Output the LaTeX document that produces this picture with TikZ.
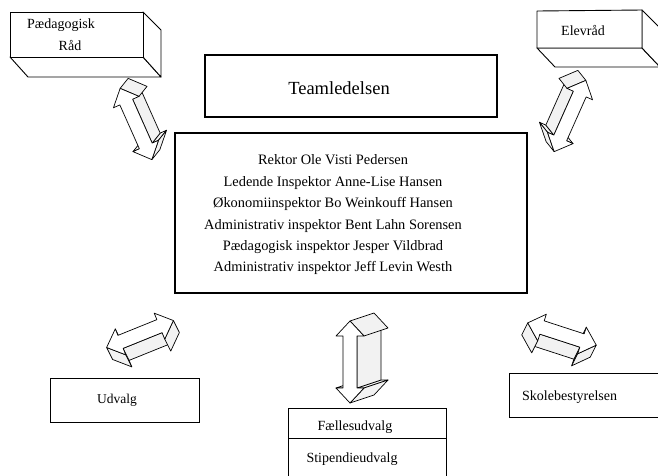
\documentclass[tikz,border=0pt]{standalone}
\usepackage{fontspec}
\setmainfont{Liberation Serif}
\usetikzlibrary{calc}
\tikzset{
  thinbox/.style={draw, line width=0.9pt, fill=white, line join=round},
  thickbox/.style={draw, line width=1.6pt, inner sep=0pt},
  lbl/.style={font=\fontsize{14}{16}\selectfont, inner sep=0pt},
  sidef/.style={draw, fill=gray!10, line width=0.7pt, line join=round},
  frontf/.style={draw, fill=white, line width=0.7pt, line join=round},
}
\def\arA{15}\def\arH{14}\def\arW{7}
\newcommand\tdarrow[6]{%
  \pgfmathsetmacro\hl{#4/2}%
  \pgfmathsetmacro\hi{#4/2-\arA}%
  \pgfmathsetmacro\dlx{(#5)*cos(#3)+(#6)*sin(#3)}%
  \pgfmathsetmacro\dly{-(#5)*sin(#3)+(#6)*cos(#3)}%
  \begin{scope}[shift={(#1,#2)},rotate=-#3]
    \foreach \k/\px/\py in {0/-\hl/0,1/-\hi/-\arH,2/-\hi/-\arW,3/\hi/-\arW,4/\hi/-\arH,5/\hl/0,6/\hi/\arH,7/\hi/\arW,8/-\hi/\arW,9/-\hi/\arH}{
      \coordinate (q\k) at (\px,\py);
      \coordinate (r\k) at (\px+\dlx,\py+\dly);
    }
    \foreach \i/\nx/\ny in {1/1/0,3/-1/0,6/-1/0,8/1/0,2/0/-1,7/0/1,0/-\arH/-\arA,4/\arH/-\arA,5/\arH/\arA,9/-\arH/\arA}{
      \pgfmathsetmacro\dd{(\nx)*(\dlx)+(\ny)*(\dly)}
      \pgfmathtruncatemacro\j{mod(\i+1,10)}
      \ifdim\dd pt>0pt
        \path[sidef] (q\i) -- (q\j) -- (r\j) -- (r\i) -- cycle;
      \fi
    }
    \path[frontf] (q0) -- (q1) -- (q2) -- (q3) -- (q4) -- (q5) -- (q6) -- (q7) -- (q8) -- (q9) -- cycle;
  \end{scope}}
\begin{document}
\begin{tikzpicture}[x=1pt,y=-1pt]
\useasboundingbox (0,0) rectangle (658,475);
\clip (0,0) rectangle (658,475);
\fill[white] (0,0) rectangle (658,475);

% Paedagogisk Raad (3D box)
\coordinate (pr1) at (10,12);
\coordinate (pr2) at (143,12);
\coordinate (pr3) at (143,57);
\coordinate (pr4) at (10,57);
\path[thinbox] (pr4) -- (pr3) -- ++(18,20) -- ($(pr4)+(18,20)$) -- cycle;
\path[thinbox] (pr2) -- ++(18,18) -- ($(pr3)+(18,20)$) -- (pr3) -- cycle;
\path[thinbox] (pr1) rectangle (pr3);
\node[lbl] (prt) at (61,25) {Pædagogisk};
\node[lbl] (prr) at (70,45) {Råd};

% Elevraad (3D box)
\coordinate (el1) at (537,11);
\coordinate (el2) at (642,10);
\coordinate (el3) at (642,48);
\coordinate (el4) at (537,48);
\path[thinbox] (el4) -- (el3) -- ++(18,19) -- ($(el4)+(18,19)$) -- cycle;
\path[thinbox] (el2) -- ++(18,18) -- ($(el3)+(18,19)$) -- (el3) -- cycle;
\path[thinbox] (el1) -- (el2) -- (el3) -- (el4) -- cycle;
\node[lbl] (elt) at (583,30) {Elevråd};

% Teamledelsen
\node[thickbox, minimum width=292, minimum height=62] (team) at (351,86) {};
\node[inner sep=0pt, font=\fontsize{18.5}{20}\selectfont] (teamt) at (339,88) {Teamledelsen};

% Main box
\node[draw, line width=2pt, minimum width=352, minimum height=160, inner sep=0pt] (main) at (351,213) {};
\node[align=center, inner sep=0pt, font=\fontsize{14.4}{21.4}\selectfont] (members) at (333,215) {Rektor Ole Visti Pedersen\\
Ledende Inspektor Anne-Lise Hansen\\
Økonomiinspektor Bo Weinkouff Hansen\\
Administrativ inspektor Bent Lahn Sorensen\\
Pædagogisk inspektor Jesper Vildbrad\\
Administrativ inspektor Jeff Levin Westh};

% Udvalg
\node[draw, line width=0.9pt, minimum width=149, minimum height=44, inner sep=0pt] (udv) at (124.5,400) {};
\node[lbl, font=\fontsize{13.5}{16}\selectfont] (udvt) at (117,400) {Udvalg};

% Skolebestyrelsen (runs past the right edge)
\node[draw, line width=0.9pt, minimum width=161, minimum height=44, inner sep=0pt] (skb) at (589.5,395) {};
\node[lbl, anchor=west] (skbt) at (522,397) {Skolebestyrelsen};

% Faellesudvalg / Stipendieudvalg (runs past the bottom edge)
\node[draw, line width=0.9pt, minimum width=158, minimum height=30, inner sep=0pt] (fael) at (367,423) {};
\node[draw, line width=0.9pt, minimum width=158, minimum height=52, inner sep=0pt, anchor=north] (stip) at (fael.south) {};
\node[lbl] (faelt) at (355,427) {Fællesudvalg};
\node[lbl] (stipt) at (352,459) {Stipendieudvalg};

% 3D double arrows
\tdarrow{136}{124}{66}{78}{8}{-10}
\tdarrow{570}{116}{114}{78}{-8}{-10}
\tdarrow{140}{334}{-22}{72}{6}{12}
\tdarrow{350}{362}{90}{82}{24}{-8}
\tdarrow{562}{334}{18}{72}{-6}{12}
\end{tikzpicture}
\end{document}
